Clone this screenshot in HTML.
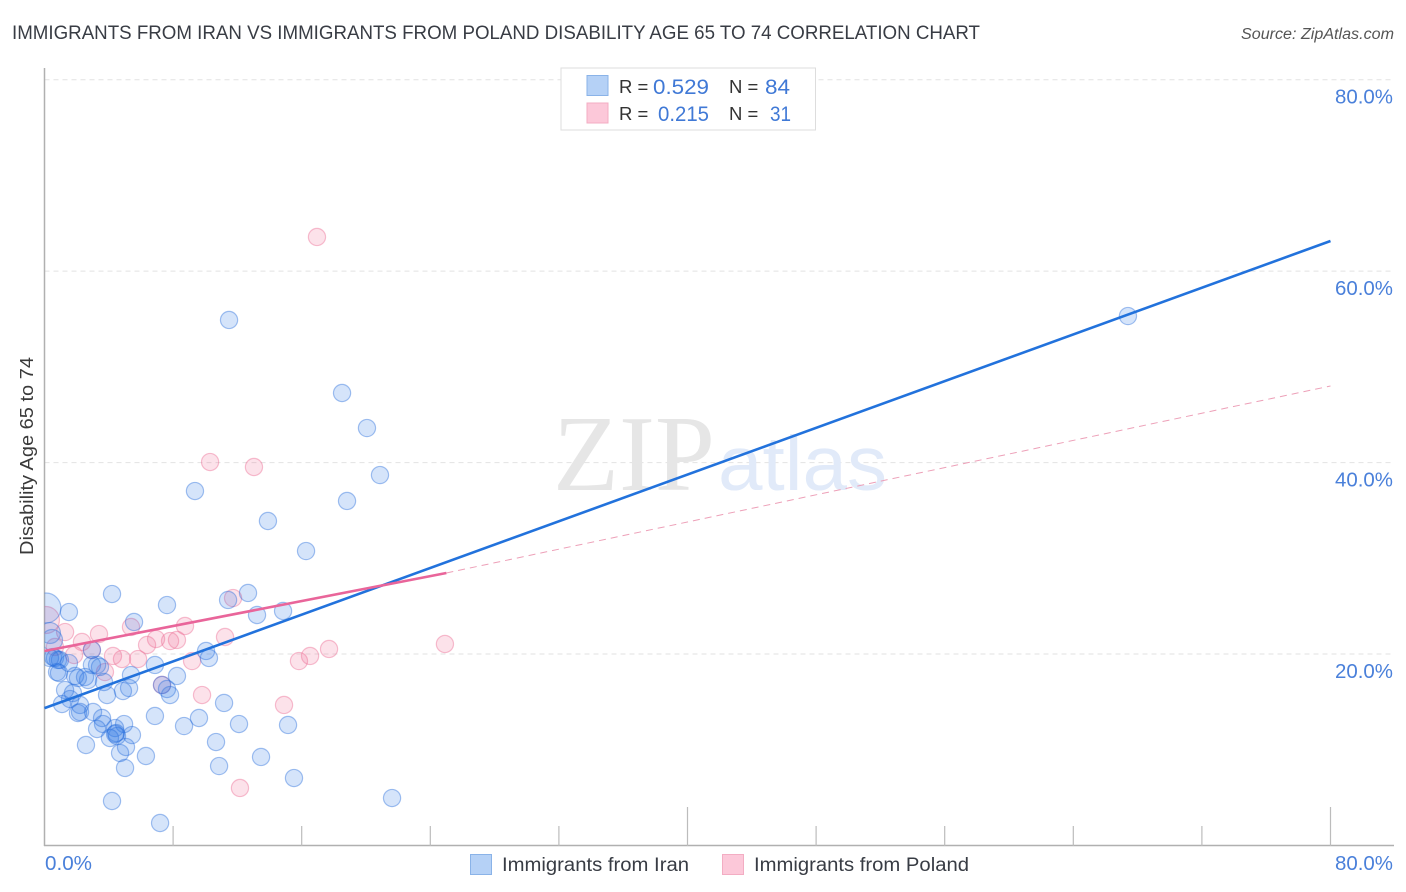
<!DOCTYPE html>
<html lang="en">
<head>
<meta charset="utf-8">
<title>Immigrants from Iran vs Immigrants from Poland Disability Age 65 to 74 Correlation Chart</title>
<style>
html,body{margin:0;padding:0;background:#fff;width:1406px;height:892px;overflow:hidden}
svg{display:block}
text{font-family:"Liberation Sans",sans-serif}
</style>
</head>
<body>
<svg id="chart" xmlns="http://www.w3.org/2000/svg" width="1406" height="892" viewBox="0 0 1406 892">
  <defs><clipPath id="plot-clip"><rect x="44.5" y="60" width="1350" height="786"/></clipPath></defs>
  <text x="12" y="39" font-size="19.5" fill="#383c44" textLength="968" lengthAdjust="spacingAndGlyphs">IMMIGRANTS FROM IRAN VS IMMIGRANTS FROM POLAND DISABILITY AGE 65 TO 74 CORRELATION CHART</text>
  <text x="1394" y="39" font-size="15.5" font-style="italic" fill="#555" text-anchor="end" textLength="153" lengthAdjust="spacingAndGlyphs">Source: ZipAtlas.com</text>
  <g id="grid"></g>
  <g>
    <text x="553" y="490" style="font-family:'Liberation Serif',serif" font-size="108" fill="#e6e6e6" textLength="162" lengthAdjust="spacingAndGlyphs">ZIP</text>
    <text x="718" y="490" font-size="77" fill="#e1eaf9" textLength="169" lengthAdjust="spacingAndGlyphs">atlas</text>
  </g>
  <g id="axes"></g>
  <g id="marks" clip-path="url(#plot-clip)"></g>
  <g id="lines"></g>
  <g id="tick-labels"></g>
  <text transform="translate(33 456) rotate(-90)" font-size="18" fill="#3a3a3a" text-anchor="middle" textLength="198" lengthAdjust="spacingAndGlyphs">Disability Age 65 to 74</text>
  <g>
    <rect x="561" y="68" width="254.5" height="62" fill="#fff" stroke="#ddd" stroke-width="1"/>
    <rect x="587" y="75.5" width="21" height="20" fill="#b5d1f6" stroke="#8ab3e8" stroke-width="1"/>
    <rect x="587" y="103" width="21" height="20" fill="#fcc8d9" stroke="#f3adc3" stroke-width="1"/>
    <text x="619" y="93" font-size="18.5" fill="#333">R =</text>
    <text x="653" y="94" font-size="21" fill="#4079d6" textLength="56" lengthAdjust="spacingAndGlyphs">0.529</text>
    <text x="729" y="93" font-size="18.5" fill="#333">N =</text>
    <text x="765" y="94" font-size="21" fill="#4079d6" textLength="25" lengthAdjust="spacingAndGlyphs">84</text>
    <text x="619" y="120" font-size="18.5" fill="#333">R =</text>
    <text x="658" y="121" font-size="21" fill="#4079d6" textLength="51" lengthAdjust="spacingAndGlyphs">0.215</text>
    <text x="729" y="120" font-size="18.5" fill="#333">N =</text>
    <text x="770" y="121" font-size="21" fill="#4079d6" textLength="21" lengthAdjust="spacingAndGlyphs">31</text>
  </g>
  <g>
    <rect x="470.5" y="854.5" width="21" height="20" fill="#b5d1f6" stroke="#8ab3e8" stroke-width="1"/>
    <text x="502" y="871" font-size="19" fill="#383c44" textLength="187" lengthAdjust="spacingAndGlyphs">Immigrants from Iran</text>
    <rect x="722.5" y="854.5" width="21" height="20" fill="#fcc8d9" stroke="#f3adc3" stroke-width="1"/>
    <text x="754" y="871" font-size="19" fill="#383c44" textLength="215" lengthAdjust="spacingAndGlyphs">Immigrants from Poland</text>
  </g>
</svg>
<script>
const xTickValues = [0, 8, 16, 24, 32, 40, 48, 56, 64, 72, 80];
const xMajorTicks = [40, 80];
const yGridValues = [20, 40, 60, 80];
const yTickLabels = ["20.0%", "40.0%", "60.0%", "80.0%"];
const xEndLabels = ["0.0%", "80.0%"];

const iranX = [11.48,18.51,20.06,20.87,18.82,9.36,13.90,16.27,67.40,4.20,7.62,11.42,12.66,13.22,14.84,1.52,5.57,0.09,0.34,0.47,0.65,0.84,0.53,0.78,0.90,1.52,1.90,2.08,2.71,2.52,2.95,3.27,3.45,5.38,6.87,3.70,3.89,4.88,5.26,7.31,7.62,7.81,8.24,10.05,10.23,11.17,6.87,9.61,8.68,12.10,1.28,1.77,1.59,1.09,2.21,2.21,2.08,3.02,3.58,3.64,3.27,4.95,4.39,4.45,4.51,4.07,5.44,2.58,4.70,5.07,5.01,6.31,4.20,7.19,10.67,10.86,13.47,15.52,21.62,15.15,2.95,0.34,0.96,4.39];
const iranY = [54.90,47.27,43.61,38.70,35.99,37.03,33.90,30.76,55.31,26.27,25.12,25.65,26.38,24.08,24.50,24.39,23.35,24.81,22.20,21.47,19.59,19.38,19.69,18.12,18.02,19.06,17.71,17.50,17.29,17.60,18.86,18.86,18.65,17.81,18.86,17.08,15.72,16.14,16.45,16.77,16.35,15.72,17.71,20.32,19.59,14.89,13.53,13.32,12.48,12.69,16.24,15.93,15.30,14.78,14.68,13.95,13.84,13.95,13.32,12.69,12.17,12.69,12.27,11.75,11.44,11.23,11.54,10.50,9.66,10.29,8.10,9.35,4.65,2.35,10.81,8.30,9.25,7.05,4.96,12.59,20.42,19.59,19.38,11.65];
const iranLargeIndex = [17];
const iranMediumIndex = [18, 19];

const polandX = [16.95,10.30,13.03,0.09,1.28,0.65,2.33,3.39,1.84,2.95,3.76,4.26,4.82,5.82,5.38,6.38,6.94,7.81,8.24,8.74,11.73,11.23,9.18,9.80,7.31,15.83,16.52,17.70,24.91,14.90,12.16];
const polandY = [63.57,40.06,39.54,23.56,22.30,20.74,21.26,22.09,19.90,20.42,18.12,19.80,19.48,19.48,22.83,20.95,21.57,21.36,21.47,22.93,25.85,21.78,19.27,15.72,16.77,19.27,19.80,20.53,21.05,14.68,6.01];
const polandLargeIndex = [3];

const iranTrendX = [0, 80];
const iranTrendY = [14.35, 63.15];
const polandTrendX = [0, 25];
const polandTrendY = [20.32, 28.47];
const polandDashX = [25, 80];
const polandDashY = [28.47, 48.0];

const NS = 'http://www.w3.org/2000/svg';
function xScale(v) { return 44.5 + v * (1286 / 80); }
function yScale(v) { return 845.5 - v * (765.8 / 80); }
function make(tag, attrs, parent) {
  const el = document.createElementNS(NS, tag);
  for (const k in attrs) el.setAttribute(k, attrs[k]);
  parent.appendChild(el);
  return el;
}

const grid = document.getElementById('grid');
yGridValues.forEach(function (v) {
  const el = make('line', {x1: 44.5, x2: 1394, y1: yScale(v), y2: yScale(v), stroke: '#e2e2e2', 'stroke-width': 1, 'stroke-dasharray': '5 4'}, grid);
  
  
});

const axes = document.getElementById('axes');
const yAxis = make('line', {x1: 44.5, x2: 44.5, y1: 68, y2: 846, stroke: '#b0b0b0', 'stroke-width': 1.5}, axes);


const xAxis = make('line', {x1: 44, x2: 1394, y1: 845.5, y2: 845.5, stroke: '#b0b0b0', 'stroke-width': 1.5}, axes);


xTickValues.forEach(function (v) {
  if (v === 0) return;
  const top = xMajorTicks.indexOf(v) >= 0 ? 807 : 826;
  const el = make('line', {x1: xScale(v), x2: xScale(v), y1: top, y2: 846, stroke: '#bcbcbc', 'stroke-width': 1.2}, axes);
  
  
});

const marks = document.getElementById('marks');
function drawSeries(xs, ys, fill, stroke, radiusFor, name) {
  xs.forEach(function (x, i) {
    const el = make('circle', {cx: xScale(x), cy: yScale(ys[i]), r: radiusFor(i), fill: fill, stroke: stroke, 'stroke-width': 1.2}, marks);
    
    
  });
}
drawSeries(polandX, polandY, 'rgba(240,110,150,0.2)', 'rgba(235,105,145,0.42)', function (i) {
  return polandLargeIndex.indexOf(i) >= 0 ? 13.5 : 8.6;
}, 'poland-point');
drawSeries(iranX, iranY, 'rgba(46,120,230,0.2)', 'rgba(40,110,220,0.42)', function (i) {
  if (iranLargeIndex.indexOf(i) >= 0) return 15;
  if (iranMediumIndex.indexOf(i) >= 0) return 10.5;
  return 8.6;
}, 'iran-point');

const lines = document.getElementById('lines');
const dash = make('line', {x1: xScale(polandDashX[0]), y1: yScale(polandDashY[0]), x2: xScale(polandDashX[1]), y2: yScale(polandDashY[1]), stroke: '#eda0b8', 'stroke-width': 1, 'stroke-dasharray': '7 5'}, lines);


const iranLine = make('line', {x1: xScale(iranTrendX[0]), y1: yScale(iranTrendY[0]), x2: xScale(iranTrendX[1]), y2: yScale(iranTrendY[1]), stroke: '#2272dc', 'stroke-width': 2.6}, lines);


const polandLine = make('line', {x1: xScale(polandTrendX[0]), y1: yScale(polandTrendY[0]), x2: xScale(polandTrendX[1]), y2: yScale(polandTrendY[1]), stroke: '#e9659a', 'stroke-width': 2.6}, lines);



const tickLabels = document.getElementById('tick-labels');
yGridValues.forEach(function (v, i) {
  const el = make('text', {x: 1393, y: yScale(v) + 24, 'font-size': 20, fill: '#4a80da', 'text-anchor': 'end', textLength: 58, lengthAdjust: 'spacingAndGlyphs'}, tickLabels);
  el.textContent = yTickLabels[i];
  
  
});
const xLeft = make('text', {x: 45, y: 870, 'font-size': 20, fill: '#4a80da', textLength: 47, lengthAdjust: 'spacingAndGlyphs'}, tickLabels);
xLeft.textContent = xEndLabels[0];


const xRight = make('text', {x: 1393, y: 870, 'font-size': 20, fill: '#4a80da', 'text-anchor': 'end', textLength: 58, lengthAdjust: 'spacingAndGlyphs'}, tickLabels);
xRight.textContent = xEndLabels[1];


</script>
</body>
</html>
